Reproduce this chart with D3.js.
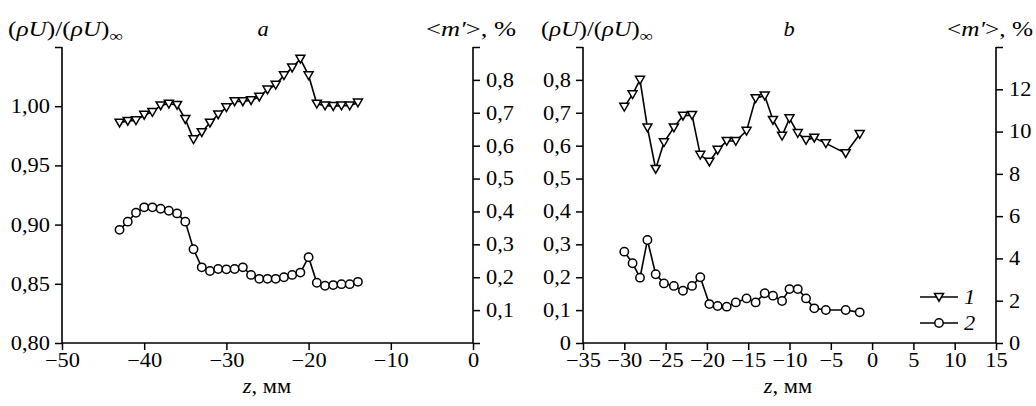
<!DOCTYPE html>
<html><head><meta charset="utf-8">
<script src="https://cdn.jsdelivr.net/npm/d3@7"></script>
<style>
body{margin:0;background:#fff}
text{font-family:"Liberation Serif","Times New Roman",serif;font-size:20px;fill:#000}
</style>
</head><body>
<svg id="c" width="1036" height="406"></svg>
<script>
// ---------- data ----------
const zA = [-43,-42,-41,-40,-39,-38,-37,-36,-35,-34,-33,-32,-31,-30,-29,-28,-27,-26,-25,-24,-23,-22,-21,-20,-19,-18,-17,-16,-15,-14];
const rhoA = [0.986,0.9875,0.988,0.9926,0.995,1.0006,1.002,1.001,0.989,0.972,0.978,0.986,0.993,0.999,1.004,1.004,1.005,1.008,1.014,1.018,1.026,1.0325,1.040,1.026,1.002,1.0005,1.000,1.0005,1.0005,1.003];
const mA = [0.344,0.369,0.396,0.4125,0.4125,0.408,0.402,0.394,0.369,0.285,0.230,0.219,0.225,0.224,0.225,0.230,0.207,0.195,0.195,0.195,0.200,0.207,0.214,0.261,0.183,0.174,0.176,0.179,0.179,0.186];

const zB = [-30.0,-29.0,-28.1,-27.2,-26.2,-25.2,-24.0,-22.9,-21.8,-20.8,-19.7,-18.7,-17.6,-16.5,-15.2,-14.1,-13.0,-12.0,-10.9,-10.0,-9.0,-8.0,-7.0,-5.6,-3.2,-1.5];
const rhoB = [0.718,0.756,0.800,0.655,0.529,0.610,0.655,0.691,0.693,0.572,0.551,0.587,0.614,0.614,0.645,0.744,0.752,0.678,0.630,0.683,0.638,0.617,0.624,0.607,0.577,0.635];
const mB = [4.32,3.77,3.09,4.87,3.25,2.82,2.70,2.47,2.70,3.11,1.84,1.75,1.72,1.92,2.11,1.92,2.35,2.24,1.99,2.55,2.55,2.11,1.64,1.56,1.56,1.45];

// ---------- ticks ----------
const xTicksA = [-50,-40,-30,-20,-10,0];
const xLabelsA = ["\u221250","\u221240","\u221230","\u221220","\u221210","0"];
const yLTicksA = [0.80,0.85,0.90,0.95,1.00,1.05];
const yLLabelsA = ["0,80","0,85","0,90","0,95","1,00",""];
const yRTicksA = [0,0.1,0.2,0.3,0.4,0.5,0.6,0.7,0.8,0.9];
const yRLabelsA = ["","0,1","0,2","0,3","0,4","0,5","0,6","0,7","0,8",""];

const xTicksB = [-35,-30,-25,-20,-15,-10,-5,0,5,10,15];
const xLabelsB = ["\u221235","\u221230","\u221225","\u221220","\u221215","\u221210","\u22125","0","5","10","15"];
const yLTicksB = [0,0.1,0.2,0.3,0.4,0.5,0.6,0.7,0.8,0.9];
const yLLabelsB = ["0","0,1","0,2","0,3","0,4","0,5","0,6","0,7","0,8",""];
const yRTicksB = [0,2,4,6,8,10,12,14];
const yRLabelsB = ["0","2","4","6","8","10","12",""];

const legendLabels = ["1","2"];

// ---------- drawing ----------
const svg = d3.select("#c");
const yTop = 47, yBot = 343;

const panels = [
  {x0:62, x1:473, xd:[-50,0], yl:[0.80,1.05], yr:[0,0.9], z:zA, r:rhoA, m:mA,
   xt:xTicksA, xl:xLabelsA, ylt:yLTicksA, yll:yLLabelsA, yrt:yRTicksA, yrl:yRLabelsA,
   title:"a", titleX:263, ytX:8, ytW:115, mX:516, mW:90, xtitleX:267},
  {x0:583, x1:996, xd:[-35,15], yl:[0,0.9], yr:[0,14], z:zB, r:rhoB, m:mB,
   xt:xTicksB, xl:xLabelsB, ylt:yLTicksB, yll:yLLabelsB, yrt:yRTicksB, yrl:yRLabelsB,
   title:"b", titleX:789, ytX:541, ytW:112, mX:1033, mW:86, xtitleX:788}
];

const tri = "M-4.5,-3.6L4.5,-3.6L0,4.2Z";

panels.forEach(p => {
  const x = d3.scaleLinear().domain(p.xd).range([p.x0, p.x1]);
  const yL = d3.scaleLinear().domain(p.yl).range([yBot, yTop]);
  const yR = d3.scaleLinear().domain(p.yr).range([yBot, yTop]);
  const g = svg.append("g");

  const ax = (axis, tx, ty) => {
    const a = g.append("g").attr("transform", `translate(${tx},${ty})`).call(axis);
    a.select(".domain").remove();
    a.selectAll(".tick line").attr("stroke","#000").attr("stroke-width",1.5);
    a.selectAll(".tick text").attr("fill","#000").classed("stretch",true)
      .style("font-size","20px")
      .style("font-family",'"Liberation Serif","Times New Roman",serif');
    a.attr("font-size",null).attr("font-family",null);
    return a;
  };
  const fmt = (ticks, labels) => (d) => labels[ticks.findIndex(t => Math.abs(t-d) < 1e-9)];

  const xa = ax(d3.axisBottom(x).tickValues(p.xt).tickFormat(fmt(p.xt,p.xl)).tickSize(7).tickSizeOuter(0).tickPadding(4), 0, yBot);
  xa.selectAll(".tick text").attr("dy",null).attr("y",24);
  const yla = ax(d3.axisLeft(yL).tickValues(p.ylt).tickFormat(fmt(p.ylt,p.yll)).tickSize(7).tickSizeOuter(0).tickPadding(5), p.x0, 0);
  yla.selectAll(".tick text").attr("dy","0.32em");
  const yra = ax(d3.axisRight(yR).tickValues(p.yrt).tickFormat(fmt(p.yrt,p.yrl)).tickSize(7).tickSizeOuter(0).tickPadding(6), p.x1, 0);
  yra.selectAll(".tick text").attr("dy","0.32em");

  // frame (left, bottom, right)
  g.append("path")
    .attr("d", `M${p.x0},${yTop}V${yBot}H${p.x1}V${yTop}`)
    .attr("fill","none").attr("stroke","#000").attr("stroke-width",1.6);

  // series lines
  const lineL = d3.line().x((d,i)=>x(p.z[i])).y(d=>yL(d));
  const lineR = d3.line().x((d,i)=>x(p.z[i])).y(d=>yR(d));
  g.append("path").attr("d", lineL(p.r)).attr("fill","none").attr("stroke","#000").attr("stroke-width",1.6);
  g.append("path").attr("d", lineR(p.m)).attr("fill","none").attr("stroke","#000").attr("stroke-width",1.6);

  // markers
  g.selectAll(".t").data(p.r).enter().append("path")
    .attr("d", tri).attr("transform",(d,i)=>`translate(${x(p.z[i])},${yL(d)})`)
    .attr("fill","#fff").attr("stroke","#000").attr("stroke-width",1.5);
  g.selectAll(".c").data(p.m).enter().append("circle")
    .attr("cx",(d,i)=>x(p.z[i])).attr("cy",d=>yR(d)).attr("r",4.2)
    .attr("fill","#fff").attr("stroke","#000").attr("stroke-width",1.5);

  // titles
  const yt = g.append("text").attr("x", p.ytX).attr("y", 36)
    .attr("textLength", p.ytW).attr("lengthAdjust","spacingAndGlyphs");
  yt.append("tspan").text("(");
  yt.append("tspan").style("font-style","italic").text("\u03C1U");
  yt.append("tspan").text(")/(");
  yt.append("tspan").style("font-style","italic").text("\u03C1U");
  yt.append("tspan").text(")");
  yt.append("tspan").attr("dy",5).style("font-size","15px").text("\u221E");

  g.append("text").attr("x", p.titleX).attr("y", 36).attr("text-anchor","middle")
    .classed("stretch",true).style("font-style","italic").text(p.title);

  const mt = g.append("text").attr("x", p.mX).attr("y", 36).attr("text-anchor","end")
    .attr("textLength", p.mW).attr("lengthAdjust","spacingAndGlyphs");
  mt.append("tspan").text("<");
  mt.append("tspan").style("font-style","italic").text("m\u2032");
  mt.append("tspan").text(">, %");

  const xt = g.append("text").attr("x", p.xtitleX).attr("y", 393).attr("text-anchor","middle")
    .classed("stretch",true);
  xt.append("tspan").style("font-style","italic").text("z");
  xt.append("tspan").text(", \u043C\u043C");
});

// legend (panel b)
const lg = svg.append("g");
legendLabels.forEach((lab, i) => {
  const yy = 297 + i*26;
  lg.append("line").attr("x1",920).attr("x2",958).attr("y1",yy).attr("y2",yy)
    .attr("stroke","#000").attr("stroke-width",1.6);
  if (i === 0) {
    lg.append("path").attr("d",tri).attr("transform",`translate(939,${yy})`)
      .attr("fill","#fff").attr("stroke","#000").attr("stroke-width",1.5);
  } else {
    lg.append("circle").attr("cx",939).attr("cy",yy).attr("r",4.2)
      .attr("fill","#fff").attr("stroke","#000").attr("stroke-width",1.5);
  }
  lg.append("text").attr("x",964).attr("y",yy+7).classed("stretch",true)
    .style("font-style","italic").text(lab);
});

// horizontal stretch of glyphs to match the wide serif of the reference
svg.selectAll("text.stretch").each(function(){
  const L = this.getComputedTextLength();
  if (L > 0) d3.select(this).attr("textLength", (L*1.12).toFixed(1)).attr("lengthAdjust","spacingAndGlyphs");
});
</script>
</body></html>
